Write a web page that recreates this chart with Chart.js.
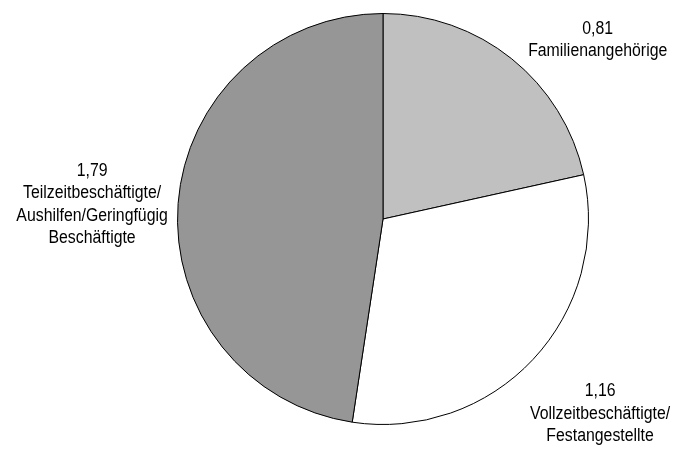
<!DOCTYPE html>
<html lang="de">
<head>
<meta charset="utf-8">
<title>Beschäftigte</title>
<script src="https://cdn.jsdelivr.net/npm/chart.js@4/dist/chart.umd.min.js"></script>
<style>
  html, body { margin: 0; padding: 0; background: #fff; }
  #chart { display: block; }
</style>
</head>
<body>
<canvas id="chart" width="674" height="450"></canvas>
<script>
(function(){
  // Slices, clockwise from 12 o'clock
  const values = [0.81, 1.16, 1.79];
  const labelLines = [
    ['Familienangehörige'],
    ['Vollzeitbeschäftigte/', 'Festangestellte'],
    ['Teilzeitbeschäftigte/', 'Aushilfen/Geringfügig', 'Beschäftigte']
  ];
  const sliceColors = ['#c0c0c0', '#ffffff', '#969696'];

  // where each text block sits, relative to the outer edge of its slice (x = block centre, y = first baseline)
  const labelOffsets = [[86, -25], [67, 37], [-86, -28]];
  const LINE_H = 22.5;

  const fmt = v => v.toFixed(2).replace('.', ',');

  const outsideLabels = {
    id: 'outsideLabels',
    afterDatasetsDraw(chart){
      const ctx = chart.ctx;
      const arcs = chart.getDatasetMeta(0).data;
      ctx.save();
      ctx.fillStyle = '#000';
      ctx.font = '18px "Liberation Sans", Arial, sans-serif';
      ctx.textAlign = 'center';
      ctx.textBaseline = 'alphabetic';
      arcs.forEach((arc, i) => {
        const p = arc.getProps(['x', 'y', 'startAngle', 'endAngle', 'outerRadius'], true);
        const mid = (p.startAngle + p.endAngle) / 2;
        const ex = p.x + Math.cos(mid) * p.outerRadius;
        const ey = p.y + Math.sin(mid) * p.outerRadius;
        const x = ex + labelOffsets[i][0];
        let y = ey + labelOffsets[i][1];
        const lines = [fmt(values[i])].concat(labelLines[i]);
        lines.forEach(line => {
          ctx.save();
          ctx.translate(x, y);
          ctx.scale(0.88, 1); // condensed face
          ctx.fillText(line, 0, 0);
          ctx.restore();
          y += LINE_H;
        });
      });
      ctx.restore();
    }
  };

  new Chart(document.getElementById('chart'), {
    type: 'pie',
    data: {
      labels: labelLines.map(l => l.join(' ')),
      datasets: [{
        data: values,
        backgroundColor: sliceColors,
        borderColor: '#000',
        borderWidth: 1
      }]
    },
    options: {
      responsive: false,
      animation: false,
      layout: { padding: { top: 13, bottom: 25, left: 177, right: 85 } },
      plugins: {
        legend: { display: false },
        tooltip: { enabled: false }
      }
    },
    plugins: [outsideLabels]
  });
})();
</script>
</body>
</html>
